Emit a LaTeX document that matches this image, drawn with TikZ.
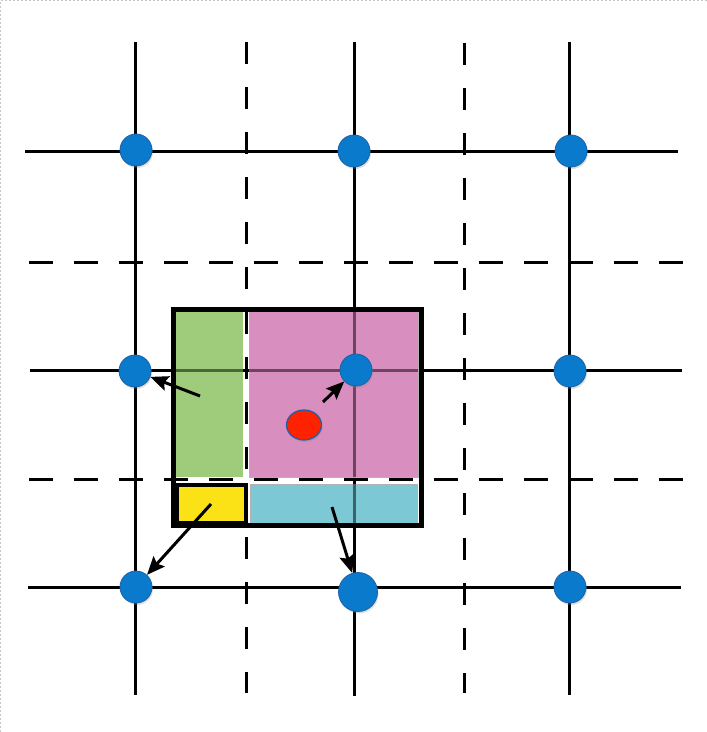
\documentclass[tikz,border=0pt]{standalone}
\usetikzlibrary{arrows.meta,shadows,shapes.geometric}

\definecolor{dotblue}{RGB}{10,123,204}
\definecolor{dotedge}{RGB}{28,96,168}
\definecolor{hotred}{RGB}{255,34,0}
\definecolor{leafgreen}{RGB}{158,204,122}
\definecolor{rose}{RGB}{216,142,190}
\definecolor{aqua}{RGB}{124,200,212}
\definecolor{lemon}{RGB}{250,226,22}

\tikzset{
  gridline/.style={line width=3pt, black},
  halfline/.style={line width=3pt, black, dash pattern=on 24pt off 21pt},
  halfvline/.style={line width=3pt, black, dash pattern=on 22pt off 23pt},
  cellfill/.style={draw=black!30, line width=1pt},
  gridpt/.style={circle, fill=dotblue, draw=dotedge, line width=0.8pt,
    minimum size=32pt, inner sep=0pt,
    drop shadow={shadow xshift=1pt, shadow yshift=-2pt, opacity=0.25}},
  bigpt/.style={gridpt, minimum size=39pt},
  particle/.style={ellipse, fill=hotred, draw=dotedge, line width=1.2pt,
    minimum width=35pt, minimum height=30pt, inner sep=0pt,
    drop shadow={shadow xshift=1pt, shadow yshift=-2pt, opacity=0.25}},
  push/.style={line width=3pt, black, -{Stealth[length=18pt,width=15pt,inset=3pt]}},
}

\begin{document}
\begin{tikzpicture}[x=1pt, y=-1pt]
  \useasboundingbox (0,0) rectangle (707,732);
  \fill[white] (0,0) rectangle (707,732);
  \draw[black!22, line width=1pt, dash pattern=on 2pt off 2pt] (0.5,732) -- (0.5,0.5) -- (707,0.5);

  % solid grid lines
  \draw[gridline] (25,151) -- (678,151);
  \draw[gridline] (30,370) -- (682,370);
  \draw[gridline] (28,587) -- (681,587);
  \draw[gridline] (135,42) -- (135,695);
  \draw[gridline] (354,42) -- (354,696);
  \draw[gridline] (569,42) -- (569,695);

  % dashed half-step grid lines
  \draw[halfline] (29,262) -- (683,262);
  \draw[halfline] (29,479) -- (683,479);
  \draw[halfvline] (246,42) -- (246,693);
  \draw[halfvline] (464,43) -- (464,693);

  % coloured cells of the stencil
  \fill[leafgreen] (176,311) rectangle (243,477);
  \draw[cellfill, fill=rose] (249,311) rectangle (418,477);
  \draw[cellfill, fill=aqua] (250,484) rectangle (417,524);

  % grid lines showing through the cells
  \draw[gridline, opacity=0.5] (176,370) -- (243,370);
  \draw[gridline, opacity=0.5] (249,370) -- (418,370);
  \draw[gridline, opacity=0.5] (354,311) -- (354,477);
  \draw[gridline, opacity=0.5] (354,484) -- (354,524);

  % outer frame and corner cell
  \draw[line width=5pt] (173,309) rectangle (421,525);
  \draw[line width=4pt, fill=lemon] (177,485) rectangle (246,523);

  % grid points
  \node[gridpt] (p11) at (136,150) {};
  \node[gridpt] (p12) at (354,151) {};
  \node[gridpt] (p13) at (571,151) {};
  \node[gridpt] (p21) at (135,371) {};
  \node[gridpt] (p22) at (356,370) {};
  \node[gridpt] (p23) at (570,371) {};
  \node[gridpt] (p31) at (136,587) {};
  \node[bigpt]  (p32) at (358,592) {};
  \node[gridpt] (p33) at (570,587) {};

  % particle
  \node[particle] (q) at (304,425) {};

  % contributions pushed to the grid points
  \coordinate (sg) at (200,396);
  \coordinate (sp) at (323,402);
  \coordinate (sy) at (211,504);
  \coordinate (sc) at (332,507);
  \draw[push] (sg) -- (p21);
  \draw[push] (sp) -- (p22);
  \draw[push] (sy) -- (p31);
  \draw[push] (sc) -- (p32);
\end{tikzpicture}
\end{document}
